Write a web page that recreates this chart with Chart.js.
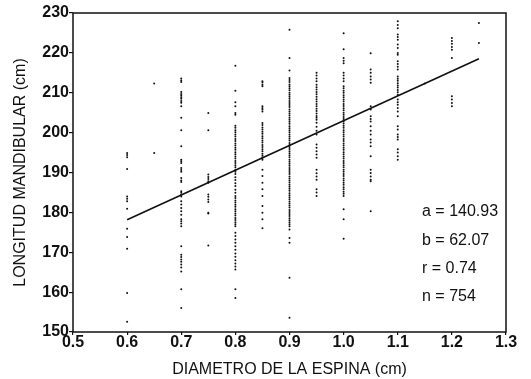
<!DOCTYPE html>
<html>
<head>
<meta charset="utf-8">
<script src="https://cdn.jsdelivr.net/npm/chart.js@4/dist/chart.umd.min.js"></script>
<style>
  html, body { margin: 0; padding: 0; background: #fff; }
  #wrap { width: 531px; height: 379px; }
</style>
</head>
<body>
<div id="wrap"><canvas id="c" width="531" height="379"></canvas></div>
<script>
// Spine diameter classes (cm) and the mandible lengths (cm) measured in each class
const diameters = [0.6, 0.65, 0.7, 0.75, 0.8, 0.85, 0.9, 0.95, 1.0, 1.05, 1.1, 1.15, 1.2, 1.25];

const len060 = [194.9, 194.4, 193.8, 190.9, 184.0, 183.4, 182.8, 180.9, 175.9, 173.8, 170.9, 159.8, 152.6];
const len065 = [212.3, 194.9];
const len070 = [213.6, 213.1, 212.7, 210.2, 209.7, 209.3, 208.9, 208.5, 207.9, 207.5, 206.6, 203.7, 200.6,
  196.6, 193.2, 192.8, 192.4, 191.1, 190.6, 190.2, 188.6, 188.0, 187.6, 185.3, 184.9, 184.4, 184.0,
  182.8, 182.0, 181.1, 180.3, 179.4, 178.3, 177.8, 177.2, 176.5, 171.5, 169.4, 168.8, 168.2, 167.6,
  166.9, 166.2, 165.2, 160.7, 156.0];
const len075 = [204.9, 200.6, 189.5, 188.9, 188.4, 187.8, 187.4, 184.5, 183.9, 183.2, 182.6, 179.9, 179.7, 171.7];
const len080 = [216.8, 210.5, 207.6, 206.6, 204.9, 204.5,
  201.7, 201.2, 200.6, 200.1, 199.5, 199.0, 198.4, 197.9, 197.3, 196.8, 196.2, 195.7, 195.1, 194.6,
  194.0, 193.5, 192.9, 192.4, 191.8, 191.3, 190.7, 190.2, 189.6, 188.8, 188.1, 187.3, 186.6, 185.7,
  184.9, 184.1, 183.6, 183.0, 182.5, 181.9, 181.4, 180.8, 180.3, 179.7, 179.2, 178.6, 178.1, 177.5,
  177.0, 176.5, 174.9, 174.1, 173.2, 172.4, 171.5, 170.6, 169.7, 168.9, 168.0, 167.2, 166.4, 165.7,
  160.7, 158.5];
const len085 = [212.9, 212.6, 212.0, 211.6, 206.6, 206.2, 205.8, 205.3,
  202.4, 201.9, 201.3, 200.8, 200.2, 199.7, 199.1, 198.6, 198.0, 197.5, 196.9, 196.4, 195.8, 195.3,
  194.7, 194.2, 193.7, 193.2, 190.7, 189.1, 187.4, 185.8, 184.1, 181.6, 179.9, 178.3, 176.0];
const len090 = [225.8, 218.7, 215.6,
  213.7, 213.2, 212.7, 212.1, 211.6, 211.1, 210.6, 210.0, 209.5, 209.0, 208.5, 207.9, 207.4, 206.9,
  206.4, 205.8, 205.3, 204.8, 204.3, 203.7, 203.2, 202.7, 202.2, 201.6, 201.1, 200.6, 200.1, 199.5,
  199.0, 198.5, 198.0, 197.4, 196.9, 196.4, 195.9, 195.3, 194.8, 194.3, 193.8, 193.2, 192.7, 192.2,
  191.7, 191.1, 190.6, 190.1, 189.6, 189.0, 188.5, 188.0, 187.5, 186.9, 186.4, 185.9, 185.4, 184.8,
  184.3, 183.8, 183.3, 182.7, 182.2, 181.7, 181.2, 180.6, 180.1, 179.6, 179.1, 178.5, 178.0, 177.5,
  177.0, 176.5, 175.7, 173.6, 172.4, 163.6, 153.6];
const len095 = [215.0, 214.3, 213.6, 212.9,
  212.0, 211.4, 210.8, 210.2, 209.6, 209.0, 208.4, 207.8, 207.2, 206.6, 206.0, 205.4, 204.8, 204.2,
  203.7, 203.2, 202.5, 201.5, 200.5, 199.5, 197.0, 196.2, 195.3, 194.5, 193.7, 190.7, 189.8, 189.0,
  188.2, 185.8, 185.0, 184.1];
const len100 = [224.9, 220.9, 218.7, 218.0, 217.4, 215.0, 214.3, 213.6, 212.9,
  211.6, 211.1, 210.5, 210.0, 209.4, 208.9, 208.3, 207.8, 207.2, 206.7, 206.1, 205.6, 205.0, 204.5,
  203.9, 203.4, 202.8, 202.3, 201.7, 201.2, 200.6, 200.1, 199.5, 199.0, 198.4, 197.9, 197.3, 196.8,
  196.2, 195.7, 195.1, 194.6, 194.0, 193.5, 192.9, 192.4, 191.8, 191.3, 190.7, 190.2, 189.6, 189.1,
  188.5, 188.0, 187.4, 186.9, 186.3, 185.8, 185.2, 184.7, 184.1, 180.8, 178.3, 173.4];
const len105 = [219.9, 215.8, 215.0, 214.1, 213.3, 212.5, 206.6, 205.8, 204.1, 203.4, 202.8, 201.6,
  200.5, 199.5, 198.3, 197.5, 196.6, 194.1, 190.7, 189.9, 189.0, 188.2, 187.8, 180.3];
const len110 = [227.9, 227.0, 226.2, 224.6, 224.0, 223.3, 222.1, 221.2, 220.0, 219.5, 217.9, 217.2,
  216.5, 215.8, 214.1, 213.5, 213.0, 212.4, 211.8, 211.3, 210.7, 210.1, 209.5, 208.3, 207.6, 207.0,
  206.2, 205.3, 204.1, 201.6, 200.8, 199.5, 198.9, 198.3, 195.8, 195.0, 194.1, 193.2];
const len115 = [212.3];
const len120 = [223.7, 223.0, 222.3, 221.5, 220.8, 218.7, 209.1, 208.3, 207.4, 206.6];
const len125 = [227.5, 222.5];

const lengthColumns = [len060, len065, len070, len075, len080, len085, len090, len095,
  len100, len105, len110, len115, len120, len125];

// Least-squares fit: length = a + b * diameter
const fitA = 140.93;
const fitB = 62.07;
const fitR = 0.74;
const sampleN = 754;
const fitRange = [0.6, 1.25];

// Axis ticks
const xTicks = [0.5, 0.6, 0.7, 0.8, 0.9, 1.0, 1.1, 1.2, 1.3];
const yTicks = [150, 160, 170, 180, 190, 200, 210, 220, 230];

const points = diameters.flatMap((d, i) => lengthColumns[i].map(v => ({ x: d, y: v })));
const fitLine = fitRange.map(x => ({ x: x, y: fitA + fitB * x }));

const statLines = [
  'a = ' + fitA.toFixed(2),
  'b = ' + fitB.toFixed(2),
  'r = ' + fitR.toFixed(2),
  'n = ' + sampleN
];

const FONT = '"Liberation Sans", Arial, Helvetica, sans-serif';

// Frame around the plot area plus the fit statistics block
const framePlugin = {
  id: 'frame',
  afterDraw(chart) {
    const { ctx, chartArea: a } = chart;
    ctx.save();
    ctx.strokeStyle = '#111';
    ctx.lineWidth = 1.5;
    ctx.strokeRect(a.left, a.top, a.right - a.left, a.bottom - a.top);
    ctx.fillStyle = '#111';
    ctx.font = '16px ' + FONT;
    ctx.textAlign = 'left';
    ctx.textBaseline = 'middle';
    const x0 = a.right - 84;
    const ys = [212, 241, 269, 297];
    statLines.forEach((t, i) => ctx.fillText(t, x0, ys[i]));
    ctx.restore();
  }
};

new Chart(document.getElementById('c'), {
  type: 'scatter',
  data: {
    datasets: [
      {
        label: 'observaciones',
        data: points,
        pointRadius: 1.0,
        pointHoverRadius: 1.0,
        pointBorderWidth: 0,
        backgroundColor: '#111',
        borderColor: '#111'
      },
      {
        label: 'recta',
        type: 'line',
        data: fitLine,
        borderColor: '#111',
        borderWidth: 1.6,
        pointRadius: 0,
        fill: false
      }
    ]
  },
  options: {
    responsive: false,
    animation: false,
    devicePixelRatio: 1,
    layout: { padding: { top: 13, right: 25, left: 0, bottom: 0 } },
    plugins: { legend: { display: false }, tooltip: { enabled: false } },
    scales: {
      x: {
        type: 'linear',
        min: 0.5,
        max: 1.3,
        afterBuildTicks: s => { s.ticks = xTicks.map(v => ({ value: v })); },
        afterFit: s => { s.height = 47; },
        border: { display: false },
        grid: { drawOnChartArea: false, drawTicks: true, tickLength: 3, color: '#111', lineWidth: 1.2 },
        ticks: {
          padding: -2,
          color: '#111',
          font: { family: FONT, size: 16, weight: 'bold' },
          callback: v => Number(v).toFixed(1)
        },
        title: {
          display: true,
          text: 'DIAMETRO DE LA ESPINA (cm)',
          color: '#111',
          font: { family: FONT, size: 16 },
          padding: { top: 0, bottom: 0 }
        }
      },
      y: {
        type: 'linear',
        min: 150,
        max: 230,
        afterBuildTicks: s => { s.ticks = yTicks.map(v => ({ value: v })); },
        afterFit: s => { s.width = 73; },
        border: { display: false },
        grid: { drawOnChartArea: false, drawTicks: true, tickLength: 4, color: '#111', lineWidth: 1.2 },
        ticks: {
          padding: 0,
          color: '#111',
          font: { family: FONT, size: 16, weight: 'bold' }
        },
        title: {
          display: true,
          text: 'LONGITUD MANDIBULAR (cm)',
          color: '#111',
          font: { family: FONT, size: 16 },
          padding: { top: 11, bottom: 0 }
        }
      }
    }
  },
  plugins: [framePlugin]
});
</script>
</body>
</html>
